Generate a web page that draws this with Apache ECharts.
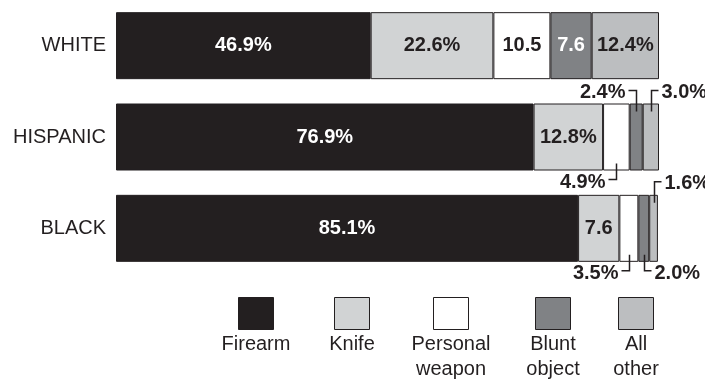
<!DOCTYPE html>
<html>
<head>
<meta charset="utf-8">
<script src="https://cdn.jsdelivr.net/npm/echarts@6/dist/echarts.min.js"></script>
<style>
  html, body { margin: 0; padding: 0; background: #fff; }
  #chart { width: 705px; height: 379px; }
</style>
</head>
<body>
<div id="chart"></div>
<script>
const races = ['WHITE', 'HISPANIC', 'BLACK']
const weapons = ['Firearm', 'Knife', 'Personal weapon', 'Blunt object', 'All other']
const legendTexts = ['Firearm', 'Knife', 'Personal\nweapon', 'Blunt\nobject', 'All\nother']

const firearm = [46.9, 76.9, 85.1]
const knife = [22.6, 12.8, 7.6]
const personal = [10.5, 4.9, 3.5]
const blunt = [7.6, 2.4, 2.0]
const other = [12.4, 3.0, 1.6]

const firearmLabels = ['46.9%', '76.9%', '85.1%']
const knifeLabels = ['22.6%', '12.8%', '7.6']
const personalLabels = ['10.5', '4.9%', '3.5%']
const bluntLabels = ['7.6', '2.4%', '2.0%']
const otherLabels = ['12.4%', '3.0%', '1.6%']

// where a label sits outside the bar: t/b = above/below, l/r = text left/right of the guide line
const firearmCallout = [null, null, null]
const knifeCallout = [null, null, null]
const personalCallout = [null, 'bl', 'bl']
const bluntCallout = [null, 'tl', 'br']
const otherCallout = [null, 'tr', 'tr']

const INK = '#231f20'
const FONT = '"Liberation Sans", Arial, sans-serif'
const BAR_H = 67

const segValues = [firearm, knife, personal, blunt, other]
const segLabels = [firearmLabels, knifeLabels, personalLabels, bluntLabels, otherLabels]
const segCallouts = [firearmCallout, knifeCallout, personalCallout, bluntCallout, otherCallout]
const segColors = ['#231f20', '#d1d3d4', '#ffffff', '#808285', '#bcbec0']
const segTextColors = ['#ffffff', INK, INK, '#ffffff', INK]

const chart = echarts.init(document.getElementById('chart'))

const barSeries = segValues.map((vals, s) => ({
  type: 'bar',
  name: weapons[s],
  stack: 'total',
  barWidth: BAR_H,
  itemStyle: { color: segColors[s], borderColor: INK, borderWidth: 1 },
  data: vals.map((v, i) => ({
    value: v,
    label: {
      show: !segCallouts[s][i],
      formatter: segLabels[s][i],
      color: segTextColors[s],
      fontFamily: FONT,
      fontWeight: 'bold',
      fontSize: 20,
    },
  })),
  label: { position: 'inside' },
  emphasis: { disabled: true },
  silent: true,
}))

// callouts for the narrow segments
const callouts = []
segValues.forEach((vals, s) => {
  vals.forEach((v, i) => {
    const side = segCallouts[s][i]
    if (!side) return
    let start = 0
    for (let k = 0; k < s; k++) start += segValues[k][i]
    callouts.push({ value: [start + v / 2, i], side, text: segLabels[s][i] })
  })
})

function renderCallout(params, api) {
  const item = callouts[params.dataIndex]
  const p = api.coord([api.value(0), api.value(1)])
  const cx = Math.round(p[0]) + 0.5
  const half = BAR_H / 2
  const top = item.side[0] === 't'
  const left = item.side[1] === 'l'
  const inY = top ? p[1] - half + 8 : p[1] + half - 7
  const elbowY = top ? p[1] - half - 13 : p[1] + half + 9
  const endX = left ? cx - 8 : cx + 7
  const textY = top ? elbowY + 2 : elbowY + 3
  return {
    type: 'group',
    children: [
      {
        type: 'polyline',
        shape: { points: [[cx, inY], [cx, elbowY], [endX, elbowY]] },
        style: { stroke: INK, lineWidth: 1.5, fill: null },
      },
      {
        type: 'text',
        style: {
          text: item.text,
          x: left ? endX - 3 : endX + 3,
          y: textY,
          textAlign: left ? 'right' : 'left',
          textVerticalAlign: 'middle',
          fill: INK,
          font: 'bold 20px ' + FONT,
        },
      },
    ],
  }
}

// legend: squares with text underneath
const legendX = [256, 352, 451, 553, 636]
const legendGraphic = []
weapons.forEach((w, s) => {
  legendGraphic.push({
    type: 'rect',
    shape: { x: legendX[s] - 17.5, y: 297.5, width: 35, height: 32 },
    style: { fill: segColors[s], stroke: INK, lineWidth: 1 },
    silent: true,
  })
  legendGraphic.push({
    type: 'text',
    style: {
      text: legendTexts[s],
      x: legendX[s],
      y: 332,
      textAlign: 'center',
      textVerticalAlign: 'top',
      fill: INK,
      font: '20px ' + FONT,
      lineHeight: 25,
    },
    silent: true,
  })
})

chart.setOption({
  animation: false,
  backgroundColor: '#fff',
  grid: { left: 116, right: 46, top: -2, height: 276 },
  xAxis: { type: 'value', min: 0, max: 100, show: false },
  yAxis: {
    type: 'category',
    inverse: true,
    data: races,
    axisLine: { show: false },
    axisTick: { show: false },
    axisLabel: { color: INK, fontFamily: FONT, fontSize: 20, margin: 10 },
  },
  series: [
    ...barSeries,
    {
      type: 'custom',
      renderItem: renderCallout,
      data: callouts.map((c) => c.value),
      silent: true,
      z: 5,
    },
  ],
  graphic: legendGraphic,
})
</script>
</body>
</html>
